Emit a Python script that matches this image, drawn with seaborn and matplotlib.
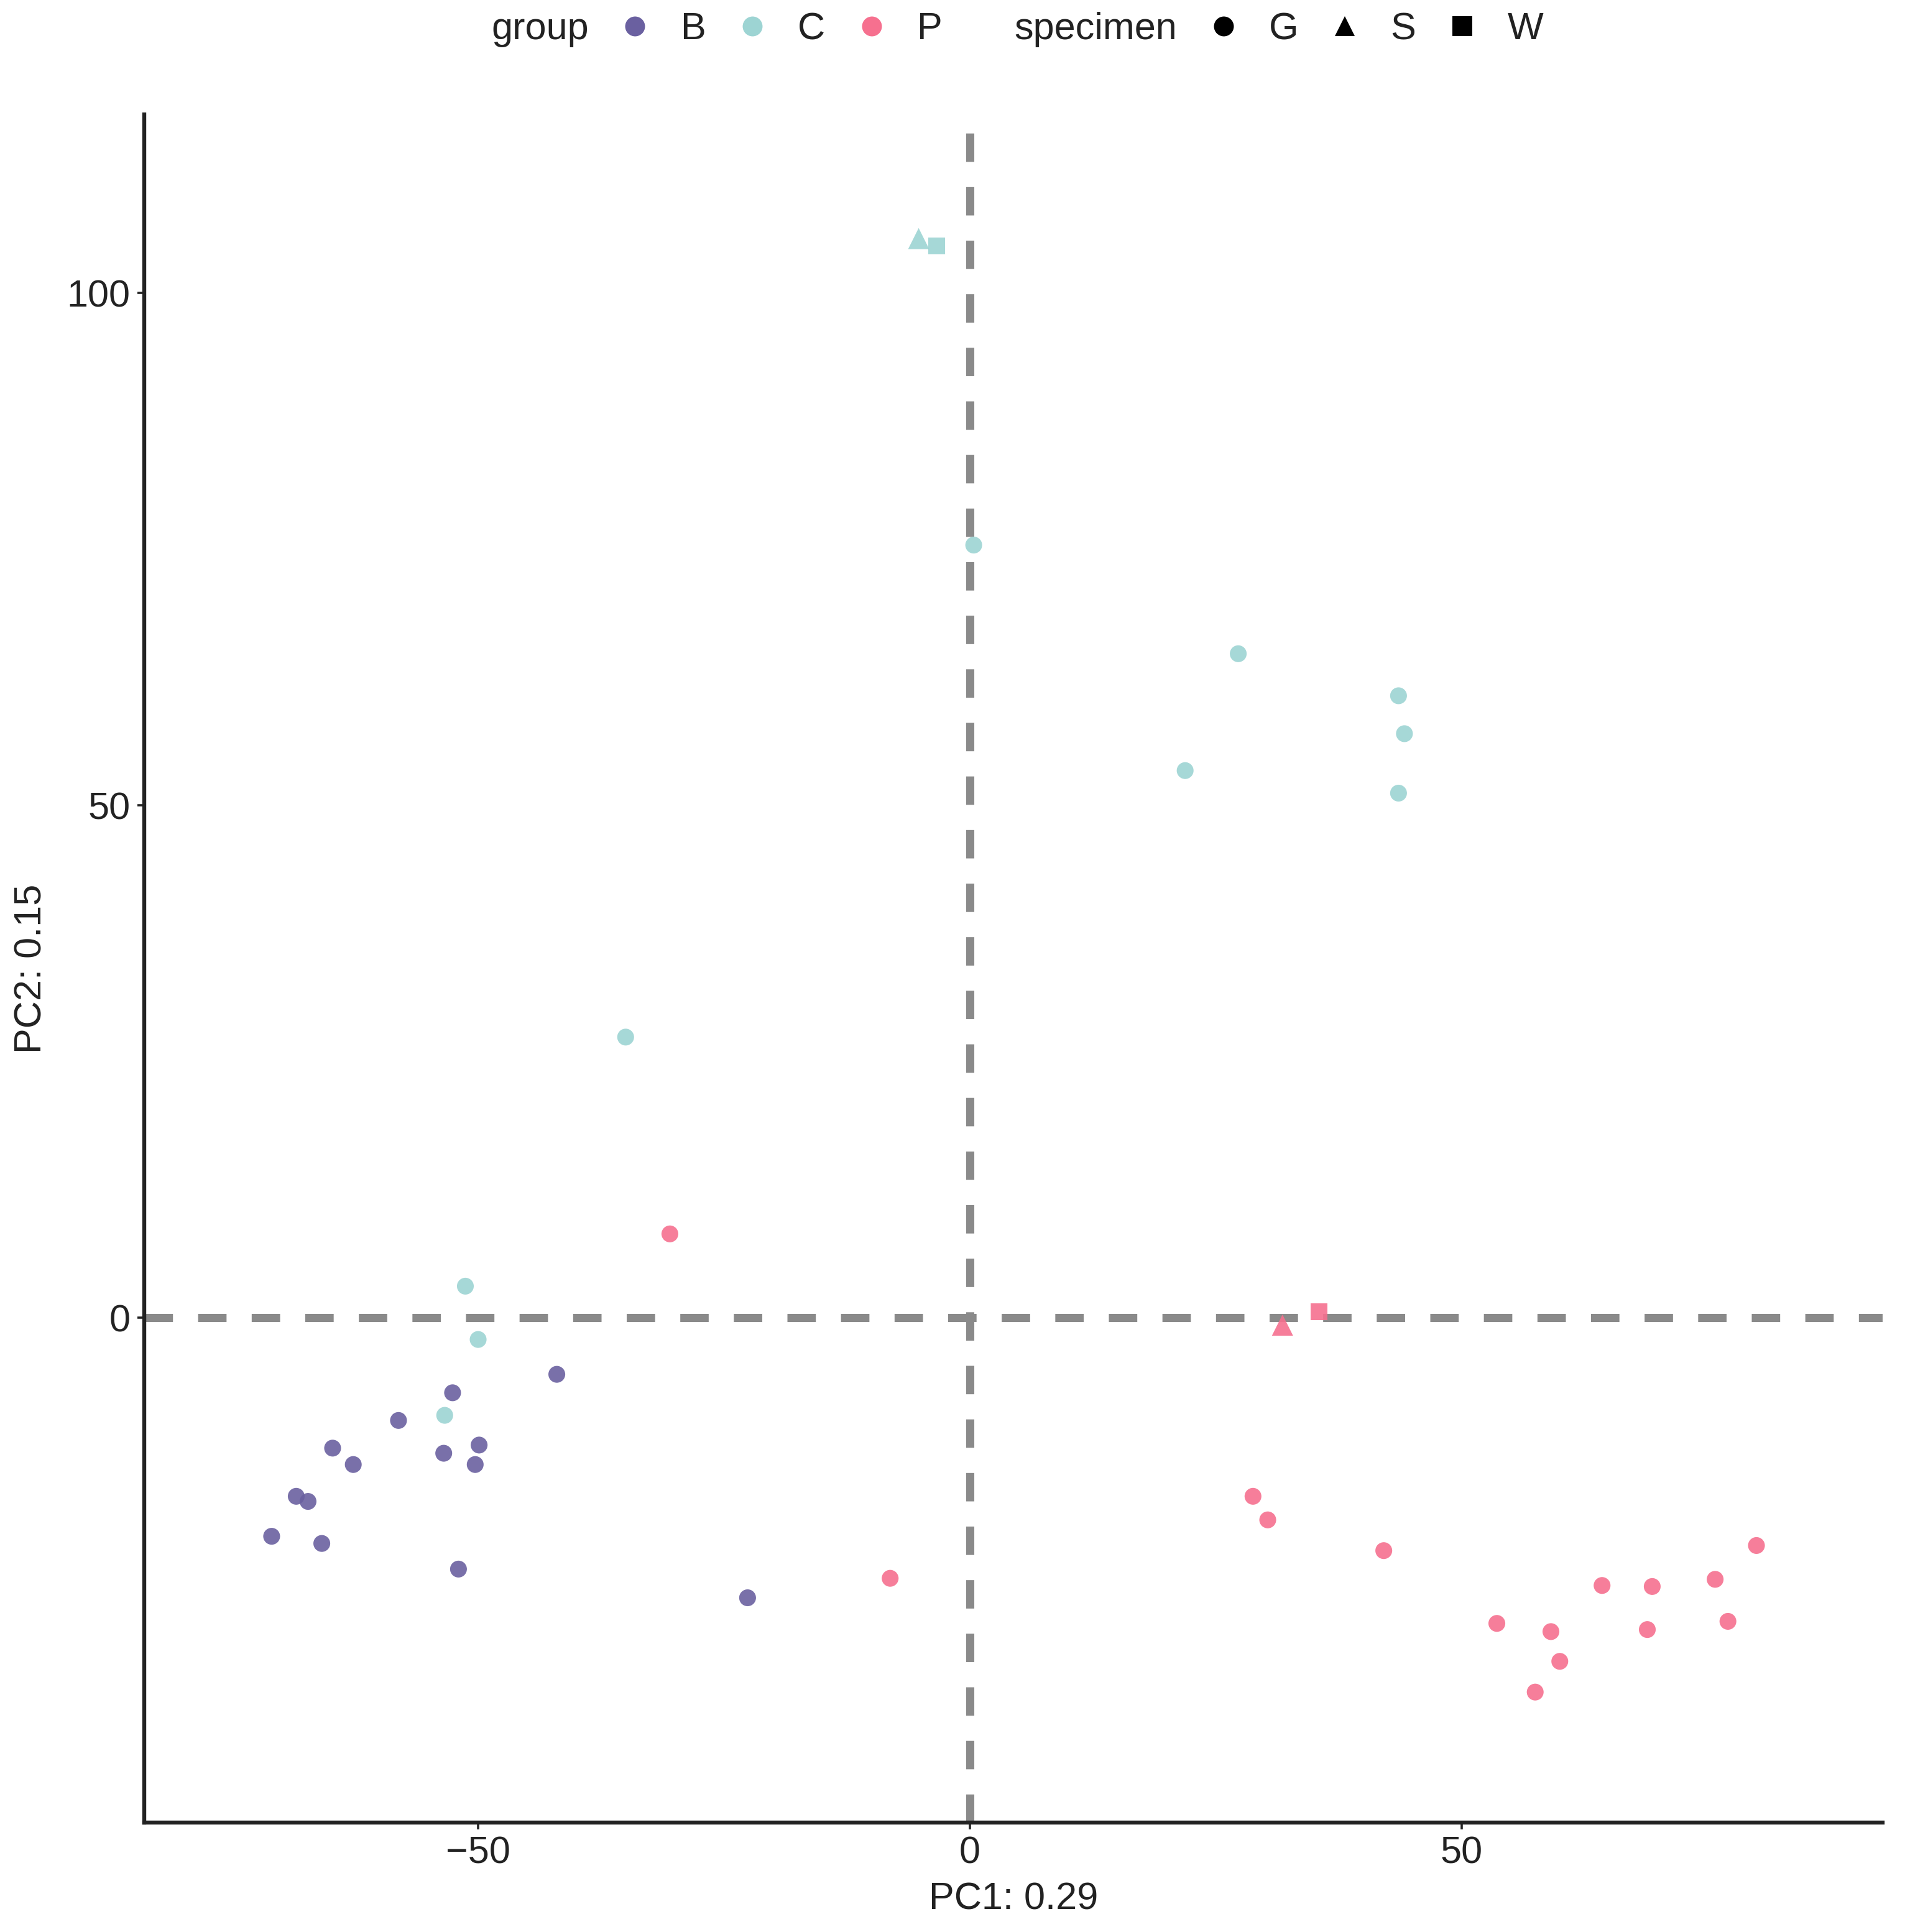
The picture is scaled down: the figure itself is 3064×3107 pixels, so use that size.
import matplotlib
matplotlib.use("Agg")
import matplotlib.pyplot as plt
import seaborn as sns
import pandas as pd
from matplotlib.lines import Line2D

# ---- data ----
b_pc1 = [-71.0, -68.5, -67.3, -65.9, -64.8, -62.7, -58.1, -53.5, -52.6, -49.9, -50.3, -52.0, -42.0, -22.6]
b_pc2 = [-21.3, -17.4, -17.9, -22.0, -12.7, -14.3, -10.0, -13.2, -7.3, -12.4, -14.3, -24.5, -5.5, -27.3]
b_spec = ["G"] * 14

c_pc1 = [-51.3, -50.0, -53.4, -35.0, 0.4, 27.3, 21.9, 43.6, 44.2, 43.6, -5.2, -3.4]
c_pc2 = [3.1, -2.1, -9.5, 27.4, 75.4, 64.8, 53.4, 60.7, 57.0, 51.2, 105.3, 104.6]
c_spec = ["G"] * 10 + ["S", "W"]

p_pc1 = [-30.5, -8.1, 28.8, 30.3, 42.1, 53.6, 57.5, 59.1, 60.0, 64.3, 69.4, 68.9, 75.8, 77.1, 80.0, 31.8, 35.5]
p_pc2 = [8.2, -25.4, -17.4, -19.7, -22.7, -29.8, -36.5, -30.6, -33.5, -26.1, -26.2, -30.4, -25.5, -29.6, -22.2, -0.7, 0.6]
p_spec = ["G"] * 15 + ["S", "W"]

groups = ["B", "C", "P"]
specimens = ["G", "S", "W"]
group_colors = ["#6a60a0", "#9dd4d3", "#f6708f"]
spec_markers = ["o", "^", "s"]
spec_sizes = [95, 150, 95]

df = pd.DataFrame({
    "PC1": b_pc1 + c_pc1 + p_pc1,
    "PC2": b_pc2 + c_pc2 + p_pc2,
    "group": ["B"] * len(b_pc1) + ["C"] * len(c_pc1) + ["P"] * len(p_pc1),
    "specimen": b_spec + c_spec + p_spec,
})

sns.set_theme(style="white")
plt.rcParams["font.family"] = ["Liberation Sans", "DejaVu Sans"]

FS = 22
fig = plt.figure(figsize=(15.32, 15.535), dpi=200)
ax = fig.add_axes([0.0757, 0.0568, 0.9127, 0.8839])

dash_kw = dict(color="#8a8a8a", lw=4.7, dashes=(3.5, 3.1), zorder=1)
ax.axhline(0, **dash_kw)
ax.axvline(0, **dash_kw)

sns.scatterplot(data=df, x="PC1", y="PC2", hue="group", style="specimen",
                size="specimen",
                hue_order=groups, style_order=specimens, size_order=specimens,
                palette=dict(zip(groups, group_colors)),
                markers=dict(zip(specimens, spec_markers)),
                sizes=dict(zip(specimens, spec_sizes)),
                linewidth=0, alpha=0.9, legend=False, ax=ax, zorder=3)

ax.set_xlim(-83.96, 92.86)
ax.set_ylim(-49.2, 117.4)
ax.set_xticks([-50, 0, 50])
ax.set_yticks([0, 50, 100])
for side in ["top", "right"]:
    ax.spines[side].set_visible(False)
for side in ["left", "bottom"]:
    ax.spines[side].set_color("#222222")
    ax.spines[side].set_linewidth(2.3)
ax.tick_params(axis="both", which="both", direction="out", length=4, width=1.3,
               color="#222222", labelsize=FS, labelcolor="#222222", pad=4,
               left=True, bottom=True)
ax.set_xlabel("PC1: 0.29", fontsize=FS, color="#222222", labelpad=6)
ax.set_ylabel("PC2: 0.15", fontsize=FS, color="#222222", labelpad=10)

# legends on top, horizontal
blank = Line2D([], [], linestyle="none", marker=None)
leg_kw = dict(loc="center left", borderaxespad=0, frameon=False, fontsize=FS,
              handlelength=1.0, handletextpad=0.7, columnspacing=0.72,
              labelcolor="#222222", ncol=4)

h1 = [blank] + [Line2D([], [], linestyle="none", marker="o", markersize=11.5,
                       markerfacecolor=c, markeredgewidth=0) for c in group_colors]
l1 = ["group"] + groups
leg1 = fig.legend(h1, l1, bbox_to_anchor=(0.216, 0.9847), **leg_kw)

h2 = [blank] + [Line2D([], [], linestyle="none", marker=m, markersize=11.5,
                       markerfacecolor="black", markeredgewidth=0) for m in spec_markers]
l2 = ["specimen"] + specimens
leg2 = fig.legend(h2, l2, bbox_to_anchor=(0.4905, 0.9847), **leg_kw)

fig.savefig("out.png", dpi=200, facecolor="white")
